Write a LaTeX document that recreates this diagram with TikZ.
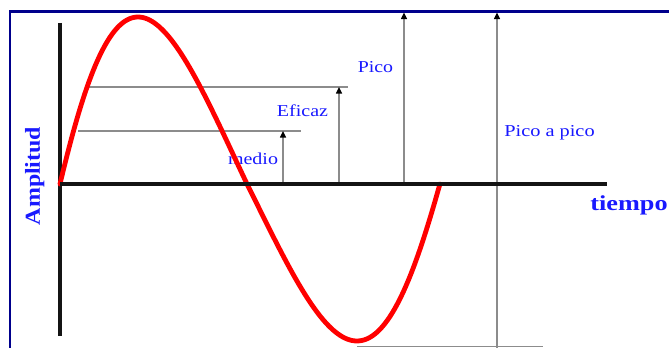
\documentclass[tikz,border=0pt]{standalone}
\usepackage{fontspec}
\setmainfont{Liberation Serif}
\usetikzlibrary{arrows.meta}
\definecolor{framenavy}{RGB}{0,0,140}
\definecolor{lblblue}{RGB}{25,25,255}
\definecolor{guidegray}{RGB}{140,140,140}
\definecolor{axisblack}{RGB}{20,20,20}
\begin{document}
\begin{tikzpicture}[x=0.75pt,y=-0.75pt,
  framestyle/.style={draw=framenavy,line width=1.6pt},
  axisstyle/.style={draw=axisblack,line width=2.3pt},
  wave/.style={draw=red,line width=3.6pt,line cap=round,line join=round},
  guide/.style={draw=guidegray,line width=1pt},
  levelarrow/.style={draw=guidegray,line width=1pt,-{Triangle[color=black,length=5pt,width=4.5pt]}},
  lbl/.style={text=lblblue,font=\fontsize{12.5}{14}\selectfont,inner sep=0pt,anchor=base},
  boldlbl/.style={text=lblblue,font=\fontsize{16}{18}\selectfont\bfseries,inner sep=0pt,anchor=base}]
\useasboundingbox (0,0) rectangle (669,348);
\fill[white] (0,0) rectangle (669,348);
% frame
\coordinate (fbl) at (10,348);
\coordinate (ftl) at (10,11.5);
\coordinate (ftr) at (669,11.5);
\draw[framestyle] (fbl) -- (ftl) -- (ftr);
% guide lines
\coordinate (ef0) at (87,87);
\coordinate (ef1) at (348,87);
\coordinate (me0) at (78,131);
\coordinate (me1) at (301,131);
\coordinate (bt0) at (357,346.5);
\coordinate (bt1) at (543,346.5);
\draw[guide] (ef0) -- (ef1);
\draw[guide] (me0) -- (me1);
\draw[guide] (bt0) -- (bt1);
% level arrows
\coordinate (ma0) at (283,184); \coordinate (ma1) at (283,131);
\coordinate (ea0) at (339,184); \coordinate (ea1) at (339,87);
\coordinate (pa0) at (404,184); \coordinate (pa1) at (404,12.5);
\coordinate (ppa0) at (497,348); \coordinate (ppa1) at (497,12.5);
\draw[levelarrow] (ma0) -- (ma1);
\draw[levelarrow] (ea0) -- (ea1);
\draw[levelarrow] (pa0) -- (pa1);
\draw[levelarrow] (ppa0) -- (ppa1);
% labels
\node[lbl] (pico) at (375.5,72.7) {\scalebox{1.19}[1]{Pico}};
\node[lbl] (eficaz) at (302.5,116.7) {\scalebox{1.2}[1]{Eficaz}};
\node[lbl] (medio) at (253,165) {\scalebox{1.2}[1]{medio}};
\node[lbl] (pap) at (549.5,137) {\scalebox{1.22}[1]{Pico a pico}};
\node[boldlbl] (tiempo) at (629,211) {\scalebox{1.23}[1]{tiempo}};
\node[boldlbl,rotate=90] (amp) at (40,176) {\scalebox{1.12}[1]{Amplitud}};
% axes
\coordinate (o) at (60,184);
\coordinate (vtop) at (60,23);
\coordinate (vbot) at (60,336);
\coordinate (hend) at (607,184);
\draw[axisstyle] (vtop) -- (vbot);
% wave
\draw[wave] plot[domain=0:pi,samples=90,variable=\t] ({60+39.8*\t+6.28*\t*\t},{184-167*sin(\t r)})
  -- plot[domain=0:pi,samples=90,variable=\s] ({247+78.6*\s-5.47*\s*\s},{184+157*sin(\s r)});
\draw[axisstyle] (o) -- (hend);
\end{tikzpicture}
\end{document}
